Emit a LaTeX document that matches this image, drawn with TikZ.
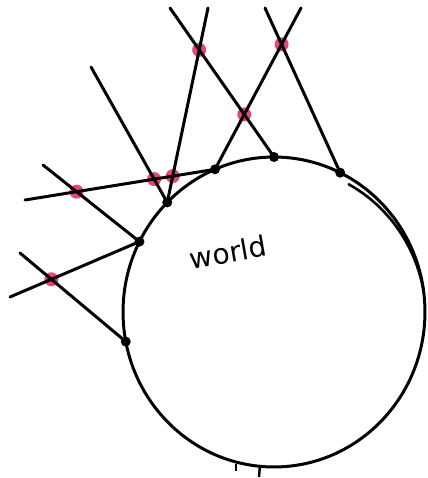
\documentclass[tikz,border=0pt]{standalone}
\usepackage{fontspec}
\setmainfont{DejaVu Sans}
\usetikzlibrary{calc}
\begin{document}
\begin{tikzpicture}[x=0.02cm,y=0.02cm,
  line/.style={line width=1.7pt,line cap=round},
  hit/.style={circle,fill=black,inner sep=0pt,minimum size=0.2cm},
  redmark/.style={circle,fill={rgb,255:red,226;green,50;blue,100},fill opacity=0.9,inner sep=0pt,minimum size=0.28cm}]
\useasboundingbox (0,0) rectangle (428,478);
\coordinate (c) at (274,166);
% world circle
\draw[line width=1.7pt] (c) ellipse [x radius=3.02cm, y radius=3.1cm];
% inner doubled arc on the right
\draw[line width=1.5pt,line cap=round] plot[domain=59:8,samples=40]
  ({274+(151-6*(\x-8)/51)*cos(\x)},{166+(155-6*(\x-8)/51)*sin(\x)});
% points on the circle
\node[hit] (p1) at ($(c)+(191:151 and 155)$) {};
\node[hit] (p2) at ($(c)+(153:151 and 155)$) {};
\node[hit] (p3) at ($(c)+(135:151 and 155)$) {};
\node[hit] (p4) at ($(c)+(113:151 and 155)$) {};
\node[hit] (p5) at ($(c)+(90:151 and 155)$) {};
\node[hit] (p6) at ($(c)+(64:151 and 155)$) {};
% free ends of the rays
\coordinate (a) at (10,181);
\coordinate (b) at (20,225);
\coordinate (cc) at (43,313);
\coordinate (d) at (25,278);
\coordinate (e) at (91,411);
\coordinate (f) at (208,470);
\coordinate (g) at (170,470);
\coordinate (h) at (301,470);
\coordinate (i) at (265,470);
% red intersection marks
\node[redmark] (m1) at (intersection of a--p2 and b--p1) {};
\node[redmark] (m2) at (intersection of cc--p2 and d--p4) {};
\node[redmark] (m3) at (intersection of e--p3 and d--p4) {};
\node[redmark] (m4) at (intersection of f--p3 and d--p4) {};
\node[redmark] (m5) at (intersection of f--p3 and g--p5) {};
\node[redmark] (m6) at (intersection of g--p5 and h--p4) {};
\node[redmark] (m7) at (intersection of h--p4 and i--p6) {};
% rays
\draw[line] (a) -- (p2.center);
\draw[line] (b) -- (p1.center);
\draw[line] (cc) -- (p2.center);
\draw[line] (d) -- (p4.center);
\draw[line] (e) -- (p3.center);
\draw[line] (f) -- (p3.center);
\draw[line] (g) -- (p5.center);
\draw[line] (h) -- (p4.center);
\draw[line] (i) -- (p6.center);
% small ticks at the bottom
\coordinate (t1) at (236,14);
\coordinate (t2) at (236,7);
\coordinate (t3) at (260,13);
\coordinate (t4) at (259,1);
\draw[line width=1.4pt] (t1) -- (t2);
\draw[line width=1.4pt] (t3) -- (t4);
% label
\node[rotate=10,font=\fontsize{16}{19}\selectfont] (w) at (228,226) {world};
\end{tikzpicture}
\end{document}
